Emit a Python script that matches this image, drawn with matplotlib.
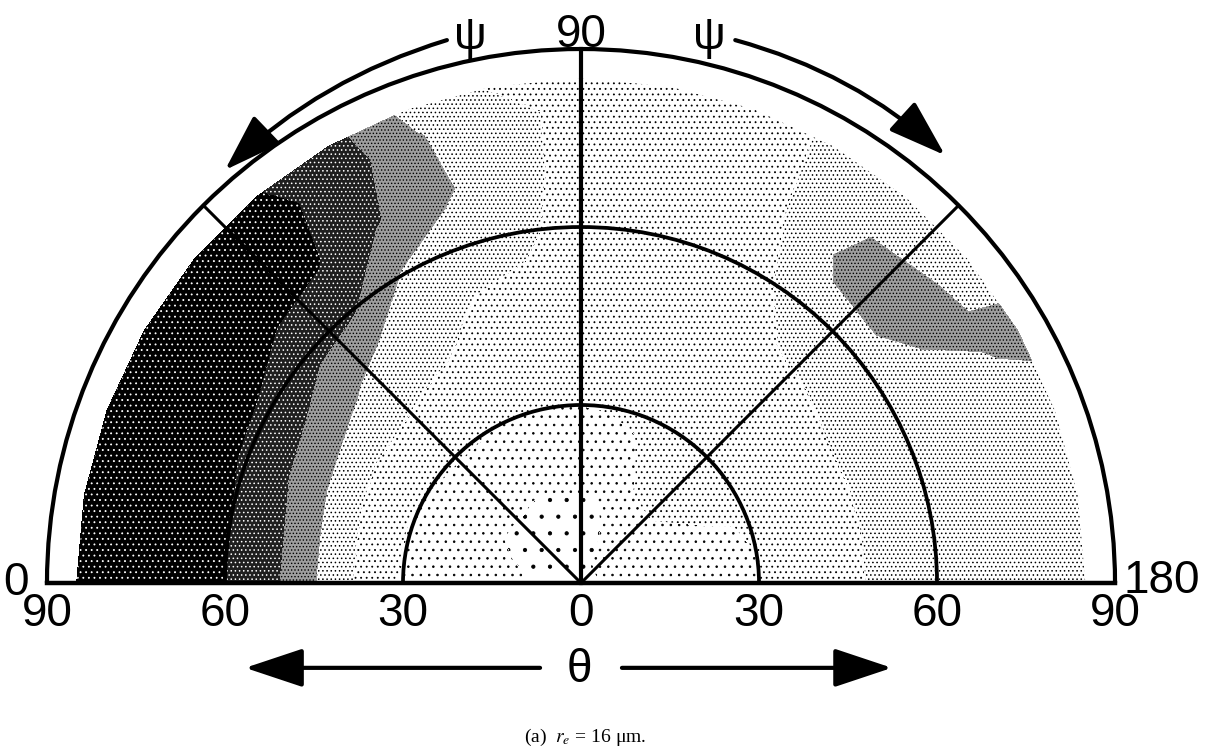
import numpy as np
import matplotlib.pyplot as plt
from matplotlib.patches import Arc, ArrowStyle

# azimuth psi (deg): 0 at the left end, 90 at the top, 180 at the right end
psi = np.arange(0, 181, 10)
# zenith theta (deg), radial distance from the centre
theta = np.array([0, 10, 20, 30, 40, 50, 60, 70, 80, 85])

# shading class, rows = psi, cols = theta
# 0 = sparsest stipple ... 3 = dense stipple, 4 = grey, 5 = dark, 6 = black
shade = np.array([
    [0.3, 0.5, 1.0, 1.4, 2.7, 4.4, 5.5, 6.0, 6.0, 6.0],    # 0
    [0.3, 0.5, 1.0, 1.4, 2.7, 4.4, 5.5, 6.0, 6.0, 6.0],    # 10
    [0.3, 0.4, 0.8, 1.4, 2.6, 4.2, 5.4, 6.0, 6.0, 6.0],    # 20
    [0.3, 0.3, 0.7, 1.5, 2.5, 4.0, 5.3, 6.0, 6.0, 6.0],    # 30
    [0.3, 0.3, 0.7, 1.6, 2.5, 3.6, 4.8, 5.8, 6.0, 6.0],    # 40
    [0.3, 0.3, 0.7, 1.6, 2.4, 3.0, 4.6, 5.6, 5.75, 5.55],  # 50
    [0.3, 0.2, 0.7, 1.5, 2.3, 2.8, 3.4, 4.6, 5.0, 4.9],    # 60
    [0.3, 0.2, 0.7, 1.5, 2.2, 2.4, 3.0, 3.7, 3.55, 3.2],   # 70
    [0.3, 0.3, 0.7, 1.5, 2.0, 2.3, 2.7, 2.8, 2.8, 2.4],    # 80
    [0.3, 0.3, 0.7, 1.5, 2.0, 2.0, 2.1, 2.2, 2.2, 2.0],    # 90
    [0.3, 0.3, 0.7, 1.6, 2.0, 2.0, 2.0, 2.0, 2.0, 2.0],    # 100
    [0.3, 0.5, 0.9, 1.8, 2.0, 2.0, 2.0, 2.0, 2.1, 2.2],    # 110
    [0.3, 0.9, 1.7, 2.0, 2.0, 2.1, 2.3, 2.55, 2.6, 2.6],   # 120
    [0.3, 1.0, 1.8, 2.0, 2.2, 2.4, 3.0, 3.8, 3.3, 3.0],    # 130
    [0.3, 1.0, 1.8, 2.0, 2.2, 2.5, 3.0, 4.0, 3.4, 3.0],    # 140
    [0.3, 1.0, 1.5, 1.8, 2.1, 2.6, 3.0, 3.1, 3.6, 3.8],    # 150
    [0.3, 1.0, 1.2, 1.6, 2.1, 2.6, 3.0, 3.0, 3.0, 3.0],    # 160
    [0.3, 1.0, 1.0, 1.5, 2.1, 2.6, 3.0, 3.0, 3.0, 3.0],    # 170
    [0.3, 1.0, 1.0, 1.5, 2.1, 2.6, 3.0, 3.0, 3.0, 3.0],    # 180
])

rings = [30, 60]
spokes = [45, 90, 135]
tick_pos = [-90, -60, -30, 0, 30, 60, 90]
tick_lab = ['90', '60', '30', '0', '30', '60', '90']

plt.rcParams['font.family'] = 'Liberation Sans'
plt.rcParams['mathtext.fontset'] = 'stix'
plt.rcParams['hatch.linewidth'] = 0.6

fig = plt.figure(figsize=(12.09, 7.54), dpi=100)
ax = fig.add_axes([0, 0, 1, 1])
ax.set_xlim(-97.92, 105.84)
ax.set_ylim(-28.82, 98.26)
ax.axis('off')

# polar grid -> cartesian
P, T = np.meshgrid(np.radians(psi), theta, indexing='ij')
X = -T * np.cos(P)
Y = T * np.sin(P)

# light stipple classes
ax.contourf(X, Y, shade, levels=[-0.5, 0.5, 1.5, 2.5, 3.5], colors='white',
            hatches=['.', '..', '...', '....'])
# grey class
ax.contourf(X, Y, shade, levels=[3.5, 4.5], colors=['0.62'], hatches=['.....'])
# dark classes, white dots
with plt.rc_context({'hatch.color': 'white'}):
    ax.contourf(X, Y, shade, levels=[4.5, 5.5, 6.5], colors=['0.12', 'black'],
                hatches=['....', '...'])

# frame: outer half circle, rings, baseline, spokes
ax.add_patch(Arc((0, 0), 180, 180, theta1=0, theta2=180, lw=3, color='k', zorder=5))
for r in rings:
    ax.add_patch(Arc((0, 0), 2 * r, 2 * r, theta1=0, theta2=180, lw=2.7, color='k', zorder=5))
ax.plot([-90, 90], [0, 0], color='k', lw=3.2, solid_capstyle='projecting', zorder=5)
for s in spokes:
    a = np.radians(s)
    ax.plot([0, -90 * np.cos(a)], [0, 90 * np.sin(a)], color='k',
            lw=3 if s == 90 else 2.2, zorder=5)

# labels
fs = 33
ax.text(0, 90.4, '90', ha='center', va='baseline', fontsize=fs)
ax.text(-95.2, 0, '0', ha='center', va='center', fontsize=fs)
ax.text(97.8, 0.3, '180', ha='center', va='center', fontsize=fs)
for p, lab in zip(tick_pos, tick_lab):
    ax.text(p, -1.6, lab, ha='center', va='top', fontsize=fs)

ax.text(-18.7, 92.0, 'ψ', ha='center', va='center', fontsize=fs)
ax.text(21.7, 92.0, 'ψ', ha='center', va='center', fontsize=fs)
ax.text(-0.3, -14.7, 'θ', ha='center', va='center', fontsize=fs)

head = ArrowStyle('-|>', head_length=36, head_width=12)
arrow_kw = dict(arrowstyle=head, lw=3, color='k', shrinkA=0, shrinkB=0, mutation_scale=1)
ax.annotate('', xy=(-56.6, -14.3), xytext=(-6.9, -14.3), arrowprops=arrow_kw)
ax.annotate('', xy=(52.4, -14.3), xytext=(6.9, -14.3), arrowprops=arrow_kw)
ax.annotate('', xy=(-60.0, 69.6), xytext=(-22.6, 91.5),
            arrowprops=dict(arrow_kw, connectionstyle='arc3,rad=0.12'))
ax.annotate('', xy=(61.35, 72.1), xytext=(26.0, 91.5),
            arrowprops=dict(arrow_kw, connectionstyle='arc3,rad=-0.12'))

ax.text(0.7, -26.1, '(a)  $r_e$ = 16 μm.', ha='center', va='center',
        fontsize=14, family='Liberation Serif')

fig.savefig('out.png', dpi=100)
